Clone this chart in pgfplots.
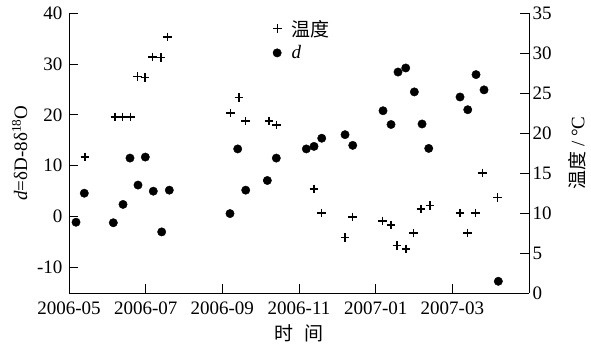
\documentclass[border=0pt]{standalone}
\usepackage{pgfplots}
\usepackage{pgfplotstable}
\pgfplotsset{compat=1.18}
\usepackage{fontspec}
\setmainfont{Liberation Serif}
\newfontfamily\cjk{Noto Sans CJK SC}

% x: months after 2006-05-01
\pgfplotstableread{
x y
0.183 -1.1
0.399 4.6
1.156 -1.2
1.409 2.4
1.591 11.5
1.800 6.2
1.991 11.7
2.199 5.0
2.418 -3.0
2.617 5.2
4.200 0.6
4.401 13.3
4.610 5.2
5.174 7.1
5.408 11.5
6.191 13.3
6.392 13.8
6.593 15.4
7.201 16.1
7.402 14.0
8.192 20.8
8.401 18.1
8.583 28.4
8.784 29.2
9.009 24.5
9.210 18.2
9.384 13.4
10.201 23.5
10.402 21.0
10.618 27.9
10.827 24.9
11.200 -12.7
}\dtab

\pgfplotstableread{
x y
0.417 17.0
1.200 22.0
1.401 22.0
1.610 22.0
1.792 27.1
1.983 26.9
2.184 29.5
2.400 29.4
2.565 32.0
4.219 22.5
4.435 24.4
4.610 21.5
5.218 21.5
5.419 21.0
6.392 13.0
6.593 10.0
7.201 6.9
7.402 9.5
8.174 9.0
8.400 8.5
8.557 5.9
8.792 5.5
8.983 7.5
9.183 10.5
9.418 10.9
10.201 10.0
10.391 7.5
10.600 10.0
10.793 15.0
11.184 11.9
}\ttab

\begin{document}
\begin{tikzpicture}
\pgfplotsset{
  base/.style={
    width=460pt, height=280pt, scale only axis,
    xmin=0, xmax=12,
    font=\fontsize{19}{22}\selectfont,
    /pgf/number format/assume math mode=true,
    major tick length=9pt,
    tick style={black, line width=0.8pt},
    axis line style={black, line width=0.8pt},
  },
  dmark/.style={only marks, mark=*, mark size=4.2pt, black},
  tmark/.style={only marks, mark=+, mark size=4.4pt, black, line width=1.2pt},
}
\begin{axis}[base,
  axis x line*=bottom, axis y line*=left,
  ymin=-15, ymax=40, ytick={-10,0,...,40},
  yticklabel style={xshift=-3pt},
  xtick={0,2,4,6,8,10},
  xticklabels={2006-05,2006-07,2006-09,2006-11,2007-01,2007-03},
  xticklabel style={yshift=-5pt},
  xlabel={\cjk 时\hspace{0.6em}间},
  xlabel style={yshift=-3pt},
  ylabel={\textit{d}=δD-8δ\textsuperscript{18}O},
  ylabel style={yshift=3pt},
]
\addplot[dmark] table {\dtab};
\end{axis}
\begin{axis}[base,
  axis x line=none, axis y line*=right,
  ymin=0, ymax=35, ytick={0,5,...,35},
  ylabel={{\cjk 温度} / °C},
  ylabel style={yshift=-10pt},
  legend style={draw=none, fill=none, at={(0.436,0.99)}, anchor=north west,
    font=\fontsize{19}{22}\selectfont, row sep=4pt},
  legend cell align=left,
]
\addplot[tmark] table {\ttab};
\addlegendentry{\hspace{8pt}\cjk 温度}
\addlegendimage{dmark}
\addlegendentry{\hspace{8pt}\textit{d}}
\end{axis}
% page frame: same margins around the plot area on every side
\pgfresetboundingbox
\path[use as bounding box]
  ([shift={(-69pt,-61pt)}]current axis.south west)
  rectangle ([shift={(62pt,13pt)}]current axis.north east);
\end{tikzpicture}
\end{document}
